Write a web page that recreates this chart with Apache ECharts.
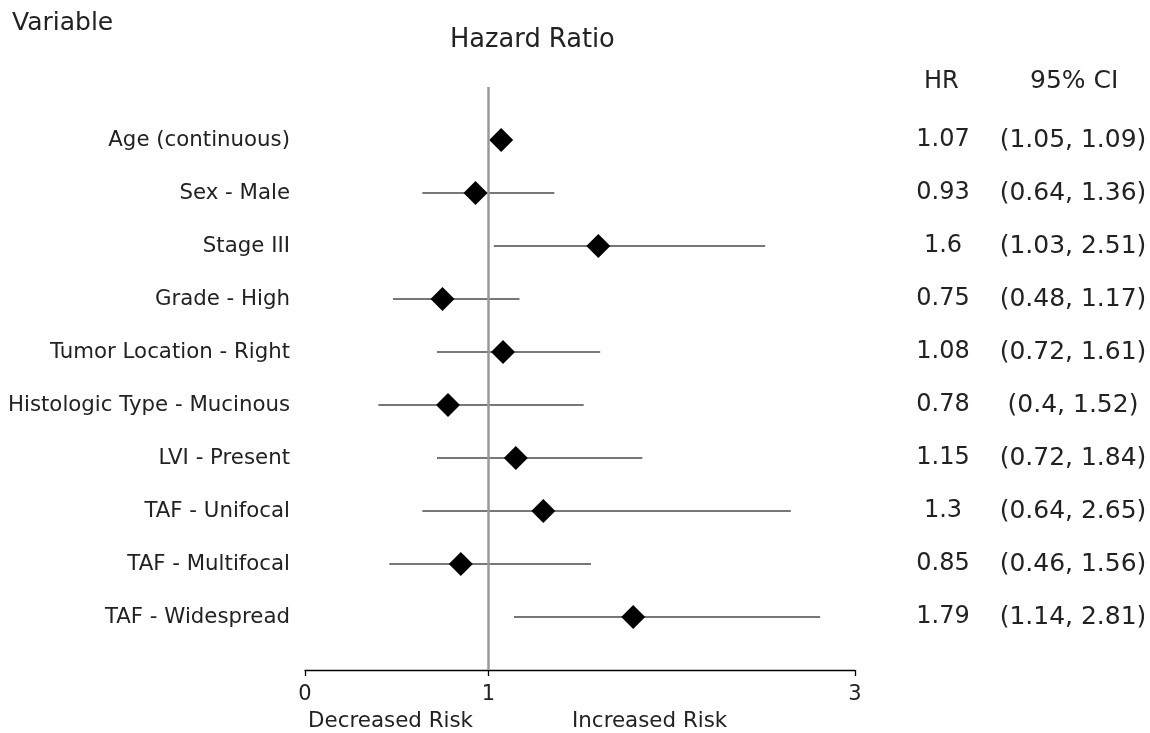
<!DOCTYPE html>
<html>
<head>
<meta charset="utf-8">
<script src="https://cdn.jsdelivr.net/npm/echarts@6/dist/echarts.min.js"></script>
<style>
html, body { margin: 0; padding: 0; background: #fff; }
#chart { width: 1150px; height: 733px; }
</style>
</head>
<body>
<div id="chart"></div>
<script>
var variables = ['Age (continuous)', 'Sex - Male', 'Stage III', 'Grade - High',
	'Tumor Location - Right', 'Histologic Type - Mucinous', 'LVI - Present',
	'TAF - Unifocal', 'TAF - Multifocal', 'TAF - Widespread'];
var hr = [1.07, 0.93, 1.6, 0.75, 1.08, 0.78, 1.15, 1.3, 0.85, 1.79];
var ciLow = [1.05, 0.64, 1.03, 0.48, 0.72, 0.4, 0.72, 0.64, 0.46, 1.14];
var ciHigh = [1.09, 1.36, 2.51, 1.17, 1.61, 1.52, 1.84, 2.65, 1.56, 2.81];
var xTicks = [0, 1, 3];

var FONT = 'DejaVu Sans';
var rows = variables.map(function (v, i) { return i; });

var chart = echarts.init(document.getElementById('chart'));

var option = {
	animation: false,
	textStyle: { fontFamily: FONT },
	grid: { left: 305, right: 295, top: 87, bottom: 63 },
	xAxis: {
		type: 'value',
		min: 0,
		max: 3,
		splitLine: { show: false },
		axisLine: { show: true, onZero: false, lineStyle: { color: '#000', width: 1.3 } },
		axisTick: { show: true, length: 6, customValues: xTicks, lineStyle: { color: '#000', width: 1.3 } },
		axisLabel: { customValues: xTicks, color: '#222', fontSize: 21, fontFamily: FONT, margin: 14 }
	},
	yAxis: [{
		type: 'value',
		inverse: true,
		min: -1,
		max: 10,
		splitLine: { show: false },
		axisLine: { show: false },
		axisTick: { show: false },
		axisLabel: {
			customValues: rows,
			margin: 15,
			color: '#222',
			fontSize: 21.3,
			fontFamily: FONT,
			padding: [8, 0, 0, 0],
			formatter: function (v) { return variables[v]; }
		}
	}, {
		type: 'value',
		position: 'right',
		inverse: true,
		min: -1,
		max: 10,
		splitLine: { show: false },
		axisLine: { show: false },
		axisTick: { show: false },
		axisLabel: {
			customValues: rows,
			margin: 88,
			align: 'center',
			color: '#222',
			fontSize: 24,
			fontFamily: FONT,
			padding: [0, 0, 16, 0],
			formatter: function (v) { return String(hr[v]); }
		}
	}, {
		type: 'value',
		position: 'right',
		inverse: true,
		min: -1,
		max: 10,
		splitLine: { show: false },
		axisLine: { show: false },
		axisTick: { show: false },
		axisLabel: {
			customValues: rows,
			margin: 218,
			align: 'center',
			color: '#222',
			fontSize: 25,
			fontFamily: FONT,
			padding: [0, 0, 16, 0],
			formatter: function (v) { return '(' + ciLow[v] + ', ' + ciHigh[v] + ')'; }
		}
	}],
	graphic: [
		{ type: 'text', left: 12, top: 11, style: { text: 'Variable', font: '25px "DejaVu Sans"', fill: '#222' } },
		{ type: 'text', left: 450, top: 27, style: { text: 'Hazard Ratio', font: '25.7px "DejaVu Sans"', fill: '#222' } },
		{ type: 'text', left: 924, top: 70, style: { text: 'HR', font: '24px "DejaVu Sans"', fill: '#222' } },
		{ type: 'text', left: 1030, top: 69, style: { text: '95% CI', font: '25px "DejaVu Sans"', fill: '#222' } },
		{ type: 'text', left: 308, top: 711, style: { text: 'Decreased Risk', font: '21.4px "DejaVu Sans"', fill: '#222' } },
		{ type: 'text', left: 572, top: 711, style: { text: 'Increased Risk', font: '21.4px "DejaVu Sans"', fill: '#222' } }
	],
	series: [{
		type: 'custom',
		z: 2,
		renderItem: function (params, api) {
			var a = api.coord([api.value(1), api.value(0)]);
			var b = api.coord([api.value(2), api.value(0)]);
			return {
				type: 'line',
				shape: { x1: a[0], y1: a[1], x2: b[0], y2: b[1] },
				style: { stroke: '#4a4a4a', lineWidth: 1.5 }
			};
		},
		encode: { x: [1, 2], y: 0 },
		data: rows.map(function (i) { return [i, ciLow[i], ciHigh[i]]; }),
		markLine: {
			silent: true,
			symbol: 'none',
			label: { show: false },
			lineStyle: { color: '#999', width: 2.5, type: 'solid' },
			data: [{ xAxis: 1 }]
		}
	}, {
		type: 'scatter',
		z: 3,
		symbol: 'diamond',
		symbolSize: 24,
		itemStyle: { color: '#000', opacity: 1 },
		data: rows.map(function (i) { return [hr[i], i]; })
	}]
};

chart.setOption(option);
</script>
</body>
</html>
